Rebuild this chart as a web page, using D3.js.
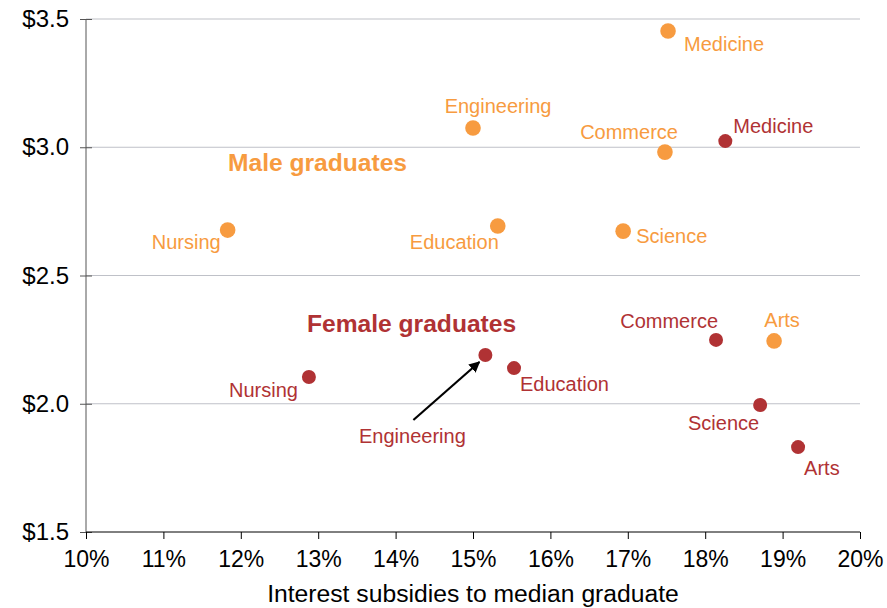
<!DOCTYPE html>
<html>
<head>
<meta charset="utf-8">
<script src="https://cdn.jsdelivr.net/npm/d3@7"></script>
<style>
  body { margin: 0; background: #fff; }
  text { font-family: "Liberation Sans", Arial, sans-serif; }
</style>
</head>
<body>
<svg id="chart" width="887" height="608"></svg>
<script>
const margin = { left: 86, right: 27, top: 19, bottom: 76 };
const width = 887 - margin.left - margin.right;
const height = 608 - margin.top - margin.bottom;

// fields of study
const fields = ['Medicine', 'Engineering', 'Commerce', 'Education', 'Science', 'Nursing', 'Arts'];
// interest subsidy share (%) and dollars (millions)
const maleX = [17.52, 15.0, 17.48, 15.32, 16.94, 11.83, 18.89];
const maleY = [3.453, 3.075, 2.981, 2.693, 2.673, 2.677, 2.245];
const femaleX = [18.26, 15.16, 18.14, 15.53, 18.71, 12.88, 19.2];
const femaleY = [3.024, 2.190, 2.249, 2.139, 1.995, 2.104, 1.831];

const xTicks = [10, 11, 12, 13, 14, 15, 16, 17, 18, 19, 20];
const yTicks = [1.5, 2.0, 2.5, 3.0, 3.5];

const orange = '#F79B40';
const red = '#B03234';

// label placement per point: [dx, dy, anchor]
const maleLabelPos = {
  Medicine: [16, 13, 'start'], Engineering: [25, -22, 'middle'], Commerce: [13, -20, 'end'],
  Education: [1, 16, 'end'], Science: [13, 5, 'start'], Nursing: [-7, 12, 'end'], Arts: [8, -21, 'middle']
};
const femaleLabelPos = {
  Medicine: [8, -15, 'start'], Engineering: [-73, 81, 'middle'], Commerce: [2, -19, 'end'],
  Education: [6, 16, 'start'], Science: [-1, 18, 'end'], Nursing: [-11, 13, 'end'], Arts: [6, 21, 'start']
};

const male = fields.map((f, i) => ({ name: f, x: maleX[i], y: maleY[i] }));
const female = fields.map((f, i) => ({ name: f, x: femaleX[i], y: femaleY[i] }));

const svg = d3.select('#chart');
const g = svg.append('g').attr('transform', 'translate(' + margin.left + ',' + margin.top + ')');

const x = d3.scaleLinear().domain([10, 20]).range([0, width]);
const y = d3.scaleLinear().domain([1.5, 3.5]).range([height, 0]);

// gridlines
g.selectAll('.grid').data(yTicks.filter(d => d > 1.5))
  .enter().append('line')
  .attr('x1', 0).attr('x2', width)
  .attr('y1', d => y(d)).attr('y2', d => y(d))
  .attr('stroke', '#BFC1C8').attr('stroke-width', 1.2);

// y axis
const yAxis = g.append('g')
  .call(d3.axisLeft(y).tickValues(yTicks).tickFormat(d => '$' + d.toFixed(1)).tickSize(6).tickPadding(11));
yAxis.selectAll('.tick line').attr('x2', 6).attr('x1', -6);
yAxis.select('.domain').attr('stroke', '#555').attr('d', 'M0,0V' + height);
yAxis.selectAll('text').attr('font-size', 24).attr('fill', '#000')
  .style('font-family', '"Liberation Sans", Arial, sans-serif');
yAxis.selectAll('line').attr('stroke', '#555');

// x axis
const xAxis = g.append('g')
  .attr('transform', 'translate(0,' + height + ')')
  .call(d3.axisBottom(x).tickValues(xTicks).tickFormat(d => d + '%').tickSize(7).tickPadding(12));
xAxis.select('.domain').attr('stroke', '#000').attr('d', 'M0,0H' + width);
xAxis.selectAll('line').attr('stroke', '#000');
xAxis.selectAll('text').attr('font-size', 23).attr('fill', '#000')
  .style('font-family', '"Liberation Sans", Arial, sans-serif');

svg.append('text')
  .attr('x', margin.left + width / 2)
  .attr('y', 602)
  .attr('text-anchor', 'middle')
  .attr('font-size', 24.7)
  .attr('fill', '#000')
  .text('Interest subsidies to median graduate');

// arrow marker
svg.append('defs').append('marker')
  .attr('id', 'arrow')
  .attr('viewBox', '0 0 10 10')
  .attr('refX', 9).attr('refY', 5)
  .attr('markerWidth', 5).attr('markerHeight', 5)
  .attr('orient', 'auto')
  .append('path').attr('d', 'M0,0L10,5L0,10z').attr('fill', '#000');

function drawSeries(data, color, r, pos) {
  g.selectAll(null).data(data)
    .enter().append('circle')
    .attr('cx', d => x(d.x))
    .attr('cy', d => y(d.y))
    .attr('r', r)
    .attr('fill', color);

  g.selectAll(null).data(data)
    .enter().append('text')
    .attr('x', d => x(d.x) + pos[d.name][0])
    .attr('y', d => y(d.y) + pos[d.name][1])
    .attr('dy', '0.35em')
    .attr('text-anchor', d => pos[d.name][2])
    .attr('font-size', 20)
    .attr('fill', color)
    .text(d => d.name);
}

drawSeries(male, orange, 7.8, maleLabelPos);
drawSeries(female, red, 7, femaleLabelPos);

// arrow from female Engineering label to its point
const eng = female.find(d => d.name === 'Engineering');
g.append('line')
  .attr('x1', x(eng.x) - 72).attr('y1', y(eng.y) + 65)
  .attr('x2', x(eng.x) - 6).attr('y2', y(eng.y) + 7)
  .attr('stroke', '#000').attr('stroke-width', 2.2)
  .attr('marker-end', 'url(#arrow)');

// series annotations
g.append('text')
  .attr('x', 142).attr('y', y(2.94))
  .attr('dy', '0.35em')
  .attr('font-size', 24.6).attr('font-weight', 'bold')
  .attr('fill', orange)
  .text('Male graduates');

g.append('text')
  .attr('x', 221).attr('y', y(2.315))
  .attr('dy', '0.35em')
  .attr('font-size', 24.6).attr('font-weight', 'bold')
  .attr('fill', red)
  .text('Female graduates');
</script>
</body>
</html>
